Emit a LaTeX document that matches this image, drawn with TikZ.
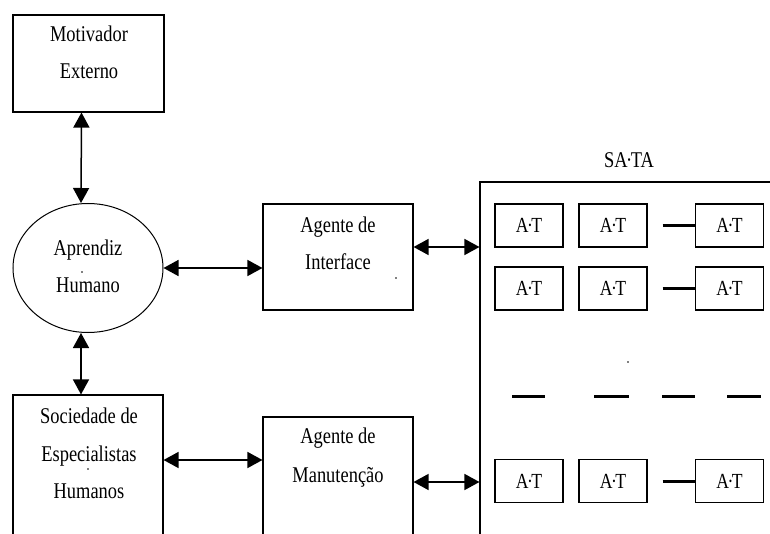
\documentclass[tikz,border=0pt]{standalone}
\usepackage{fontspec}
\setmainfont{Liberation Serif}[FakeStretch=0.82]
\usetikzlibrary{arrows.meta,shapes.geometric}
\begin{document}
\begin{tikzpicture}[x=1bp,y=-1bp,
  box/.style={draw,line width=1.1bp,inner sep=0pt},
  lbl/.style={font=\fontsize{22.5bp}{38bp}\selectfont,inner sep=0pt,anchor=base},
  atbox/.style={box,minimum width=68bp,minimum height=43bp,font=\fontsize{21.5bp}{24bp}\selectfont},
  bi/.style={line width=1.5bp,{Triangle[width=16bp,length=15bp]}-{Triangle[width=16bp,length=15bp]}},
  thickdash/.style={line width=3bp},
  speck/.style={fill=black}
]
\useasboundingbox (0,0) rectangle (770,534);
\clip (0,0) rectangle (770,534);
% main boxes
\node[box,minimum width=151bp,minimum height=97bp] (mot) at (88.5,63.5) {};
\node[box,ellipse,line width=1bp,minimum width=150bp,minimum height=129bp] (apr) at (88,268) {};
\node[box,minimum width=150bp,minimum height=165bp] (soc) at (88,477.5) {};
\node[box,minimum width=150bp,minimum height=106bp] (ai) at (338,257) {};
\node[box,minimum width=150bp,minimum height=143bp] (man) at (338,488.5) {};
\node[box,minimum width=320bp,minimum height=378bp] (sata) at (640,371) {};
% labels
\node[lbl] (t1) at (89,42) {Motivador};
\node[lbl] (t2) at (89,79) {Externo};
\node[lbl] (t3) at (88,256) {Aprendiz};
\node[lbl] (t4) at (88,293) {Humano};
\node[lbl] (t5) at (338,233) {Agente de};
\node[lbl] (t6) at (338,270) {Interface};
\node[lbl] (t7) at (89,423) {Sociedade de};
\node[lbl] (t8) at (89,461) {Especialistas};
\node[lbl] (t9) at (89,498) {Humanos};
\node[lbl] (t10) at (338,443) {Agente de};
\node[lbl] (t11) at (338,482) {Manutenção};
\node[lbl] (t12) at (629,168) {SA\kern-1.5bp·\kern-1.5bp TA};
% AT boxes
\foreach \r/\y in {1/225.5,2/288.5,3/481}{
  \node[atbox] (a\r1) at (529,\y) {A\kern-1.5bp·\kern-1.5bp T};
  \node[atbox] (a\r2) at (613,\y) {A\kern-1.5bp·\kern-1.5bp T};
  \node[atbox] (a\r3) at (729.5,\y) {A\kern-1.5bp·\kern-1.5bp T};
  \draw[thickdash] ([xshift=15bp]a\r2.east) -- (a\r3.west);
}
% middle row of dashes
\draw[thickdash] (512,396) -- (545,396);
\draw[thickdash] (594,396) -- (629,396);
\draw[thickdash] (662,396) -- (695,396);
\draw[thickdash] (727,396) -- (761,396);
% connectors
\draw[bi] ([xshift=-7bp]mot.south) -- ([xshift=-7bp]apr.north);
\draw[bi] ([xshift=-7bp]apr.south) -- ([xshift=-7bp]soc.north);
\draw[bi] (apr.east) -- (apr.east -| ai.west);
\draw[bi] ([yshift=10bp]ai.east) -- ([yshift=10bp]ai.east -| sata.west);
\draw[bi] ([yshift=17.5bp]soc.east) -- ([yshift=17.5bp]soc.east -| man.west);
\draw[bi] ([yshift=6.5bp]man.east) -- ([yshift=6.5bp]man.east -| sata.west);
% specks
\fill[speck] (82,272) circle (0.9bp);
\fill[speck] (396,278) circle (0.9bp);
\fill[speck] (88,469) circle (0.9bp);
\fill[speck] (628,362) circle (0.9bp);
\end{tikzpicture}
\end{document}
